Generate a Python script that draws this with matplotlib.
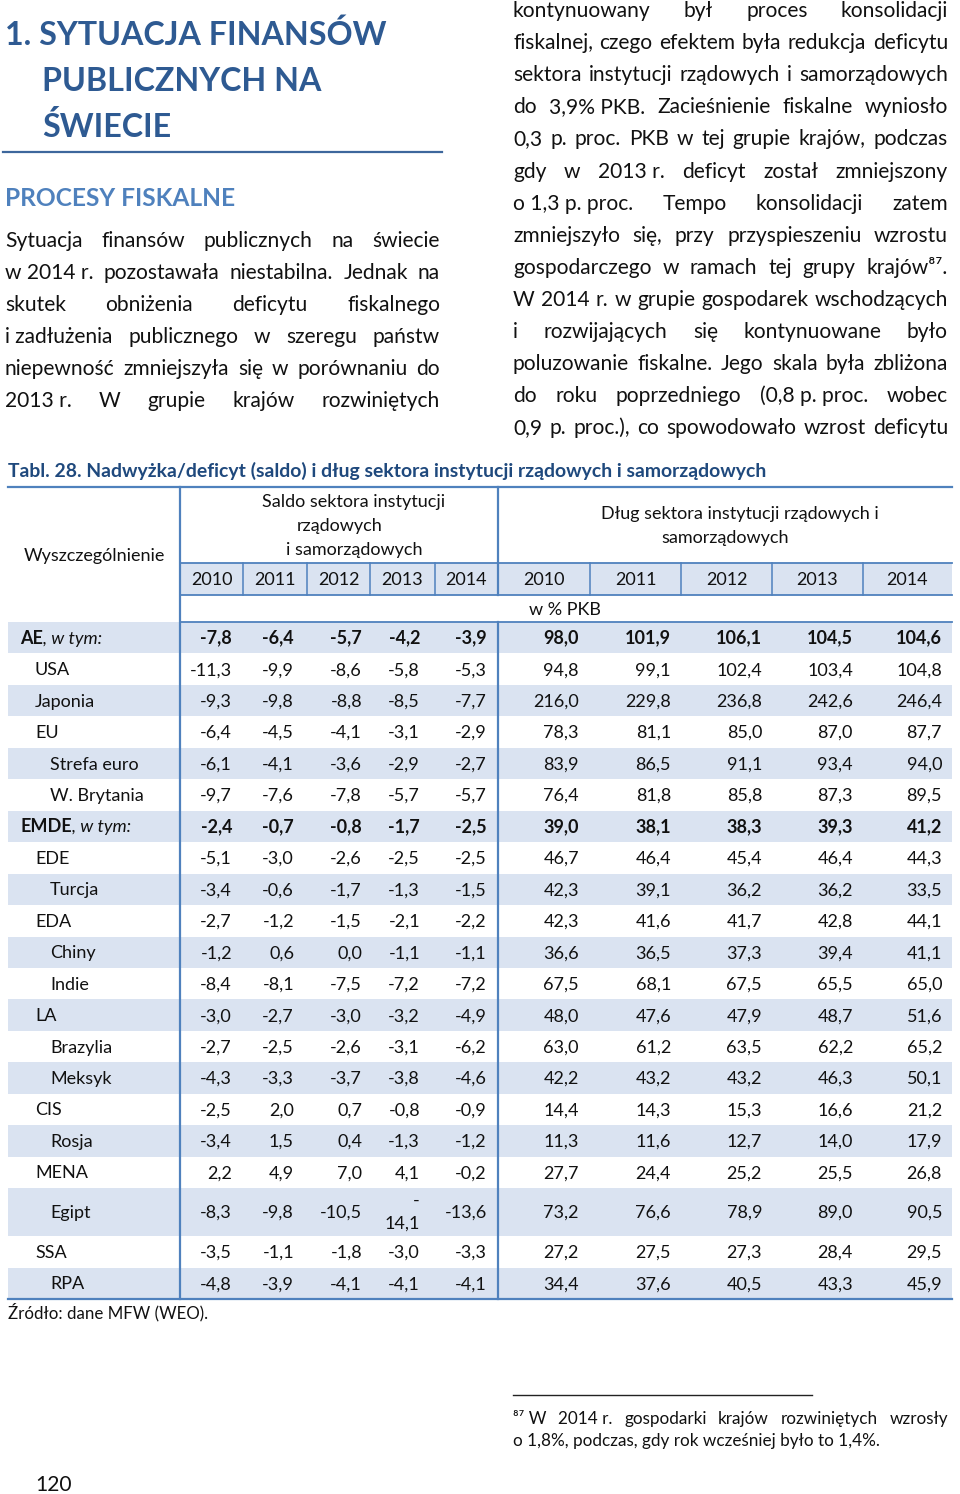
import matplotlib.pyplot as plt
from matplotlib.patches import Rectangle

plt.rcParams['font.family'] = ['Lato', 'DejaVu Sans']

# ---------------- data ----------------
years = ["2010", "2011", "2012", "2013", "2014"]

regions = ["AE, w tym:", "USA", "Japonia", "EU", "Strefa euro", "W. Brytania",
           "EMDE, w tym:", "EDE", "Turcja", "EDA", "Chiny", "Indie", "LA",
           "Brazylia", "Meksyk", "CIS", "Rosja", "MENA", "Egipt", "SSA", "RPA"]
levels = [0, 1, 1, 1, 2, 2, 0, 1, 2, 1, 2, 2, 1, 2, 2, 1, 2, 1, 2, 1, 2]

saldo = [
    [-7.8, -6.4, -5.7, -4.2, -3.9],
    [-11.3, -9.9, -8.6, -5.8, -5.3],
    [-9.3, -9.8, -8.8, -8.5, -7.7],
    [-6.4, -4.5, -4.1, -3.1, -2.9],
    [-6.1, -4.1, -3.6, -2.9, -2.7],
    [-9.7, -7.6, -7.8, -5.7, -5.7],
    [-2.4, -0.7, -0.8, -1.7, -2.5],
    [-5.1, -3.0, -2.6, -2.5, -2.5],
    [-3.4, -0.6, -1.7, -1.3, -1.5],
    [-2.7, -1.2, -1.5, -2.1, -2.2],
    [-1.2, 0.6, 0.0, -1.1, -1.1],
    [-8.4, -8.1, -7.5, -7.2, -7.2],
    [-3.0, -2.7, -3.0, -3.2, -4.9],
    [-2.7, -2.5, -2.6, -3.1, -6.2],
    [-4.3, -3.3, -3.7, -3.8, -4.6],
    [-2.5, 2.0, 0.7, -0.8, -0.9],
    [-3.4, 1.5, 0.4, -1.3, -1.2],
    [2.2, 4.9, 7.0, 4.1, -0.2],
    [-8.3, -9.8, -10.5, -14.1, -13.6],
    [-3.5, -1.1, -1.8, -3.0, -3.3],
    [-4.8, -3.9, -4.1, -4.1, -4.1],
]

dlug = [
    [98.0, 101.9, 106.1, 104.5, 104.6],
    [94.8, 99.1, 102.4, 103.4, 104.8],
    [216.0, 229.8, 236.8, 242.6, 246.4],
    [78.3, 81.1, 85.0, 87.0, 87.7],
    [83.9, 86.5, 91.1, 93.4, 94.0],
    [76.4, 81.8, 85.8, 87.3, 89.5],
    [39.0, 38.1, 38.3, 39.3, 41.2],
    [46.7, 46.4, 45.4, 46.4, 44.3],
    [42.3, 39.1, 36.2, 36.2, 33.5],
    [42.3, 41.6, 41.7, 42.8, 44.1],
    [36.6, 36.5, 37.3, 39.4, 41.1],
    [67.5, 68.1, 67.5, 65.5, 65.0],
    [48.0, 47.6, 47.9, 48.7, 51.6],
    [63.0, 61.2, 63.5, 62.2, 65.2],
    [42.2, 43.2, 43.2, 46.3, 50.1],
    [14.4, 14.3, 15.3, 16.6, 21.2],
    [11.3, 11.6, 12.7, 14.0, 17.9],
    [27.7, 24.4, 25.2, 25.5, 26.8],
    [73.2, 76.6, 78.9, 89.0, 90.5],
    [27.2, 27.5, 27.3, 28.4, 29.5],
    [34.4, 37.6, 40.5, 43.3, 45.9],
]

left_par = [
    "Sytuacja finansów publicznych na świecie",
    "w\u00a02014\u00a0r. pozostawała niestabilna. Jednak na",
    "skutek obniżenia deficytu fiskalnego",
    "i\u00a0zadłużenia publicznego w szeregu państw",
    "niepewność zmniejszyła się w porównaniu do",
    "2013\u00a0r. W grupie krajów rozwiniętych",
]
right_par = [
    "kontynuowany był proces konsolidacji",
    "fiskalnej, czego efektem była redukcja deficytu",
    "sektora instytucji rządowych i samorządowych",
    "do 3,9%\u00a0PKB. Zacieśnienie fiskalne wyniosło",
    "0,3 p. proc. PKB w tej grupie krajów, podczas",
    "gdy w 2013\u00a0r. deficyt został zmniejszony",
    "o\u00a01,3\u00a0p.\u00a0proc. Tempo konsolidacji zatem",
    "zmniejszyło się, przy przyspieszeniu wzrostu",
    "gospodarczego w ramach tej grupy krajów\u2078\u2077.",
    "W 2014 r. w grupie gospodarek wschodzących",
    "i rozwijających się kontynuowane było",
    "poluzowanie fiskalne. Jego skala była zbliżona",
    "do roku poprzedniego (0,8\u00a0p.\u00a0proc. wobec",
    "0,9 p. proc.), co spowodowało wzrost deficytu",
]
footnote = ["\u2078\u2077\u00a0W 2014\u00a0r. gospodarki krajów rozwiniętych wzrosły",
            "o 1,8%, podczas, gdy rok wcześniej było to 1,4%."]

# ---------------- style ----------------
TEXT = "#111111"
TITLE = "#2E5A92"
SUB = "#4F81BD"
TAB_TITLE = "#1F497D"
LINE = "#4F81BD"
SHADE = "#DAE3F1"

W, H = 960, 1494
fig = plt.figure(figsize=(W / 100, H / 100), dpi=100)
ax = fig.add_axes([0, 0, 1, 1])
ax.set_xlim(0, W)
ax.set_ylim(H, 0)
ax.axis('off')
rend = fig.canvas.get_renderer()


def txt(x, y, s, **kw):
    kw.setdefault('color', TEXT)
    kw.setdefault('va', 'baseline')
    return ax.text(x, y, s, zorder=3, **kw)


def width(s, **kw):
    t = ax.text(0, 0, s, **kw)
    w = t.get_window_extent(renderer=rend).width
    t.remove()
    return w


def fit(s, target, **kw):
    return 10 * target / width(s, fontsize=10, **kw)


def justify(line, x0, x1, y, size):
    words = line.split(' ')
    ws = [width(w, fontsize=size) for w in words]
    gap = (x1 - x0 - sum(ws)) / max(len(words) - 1, 1)
    x = x0
    for w, wd in zip(words, ws):
        txt(x, y, w, fontsize=size)
        x += wd + gap


def fmt(v):
    return f"{v:.1f}".replace('.', ',')


# ---------------- headings ----------------
ts = fit("1. SYTUACJA FINANSÓW", 382, fontweight='bold')
txt(5, 45, "1. SYTUACJA FINANSÓW", fontsize=ts, fontweight='bold', color=TITLE)
txt(42, 91, "PUBLICZNYCH NA", fontsize=ts, fontweight='bold', color=TITLE)
txt(42, 137, "ŚWIECIE", fontsize=ts, fontweight='bold', color=TITLE)
ax.plot([3, 442], [152, 152], color="#3D679C", lw=1.6, zorder=2)

ss = fit("PROCESY FISKALNE", 230, fontweight='bold')
txt(5, 206, "PROCESY FISKALNE", fontsize=ss, fontweight='bold', color=SUB)

BODY = fit("fiskalnej, czego efektem była redukcja deficytu", 430)
for i, line in enumerate(left_par):
    justify(line, 5, 440, 247 + 32 * i, BODY)
for i, line in enumerate(right_par):
    justify(line, 513, 948, 17 + 32.1 * i, BODY)

# ---------------- table ----------------
tt = "Tabl. 28. Nadwyżka/deficyt (saldo) i dług sektora instytucji rządowych i samorządowych"
tsz = fit(tt, 757, fontweight='bold')
txt(8, 477, tt, fontsize=tsz, fontweight='bold', color=TAB_TITLE)

TS = fit("Wyszczególnienie", 142)
x_left, x_lab, x_mid, x_right = 8, 180, 498, 952
saldo_edges = [180, 243, 307, 370, 435, 498]
dlug_edges = [498, 590, 681, 772, 863, 952]
saldo_right = [232, 294, 362, 420, 487]
dlug_right = [579, 671, 762, 853, 942]
top, yr_top, yr_bot, hdr_bot = 487, 563, 595, 622

# year row
ax.add_patch(Rectangle((x_lab, yr_top), x_right - x_lab, yr_bot - yr_top,
                       color=SHADE, lw=0, zorder=0))

# data rows
heights = [48 if r == "Egipt" else 31.45 for r in regions]
y = hdr_bot
row_mid = []
for i, h in enumerate(heights):
    if i % 2 == 0:
        ax.add_patch(Rectangle((x_left, y), x_right - x_left, h,
                               color=SHADE, lw=0, zorder=0))
    row_mid.append(y + h / 2)
    y += h
bottom = y

# lines
ax.plot([x_left, x_right], [top, top], color=LINE, lw=1.6, zorder=2)
ax.plot([x_left, x_right], [bottom, bottom], color=LINE, lw=1.6, zorder=2)
ax.plot([x_lab, x_right], [yr_top, yr_top], color=LINE, lw=1.3, zorder=2)
ax.plot([x_lab, x_right], [yr_bot, yr_bot], color=LINE, lw=1.3, zorder=2)
ax.plot([x_lab, x_right], [hdr_bot, hdr_bot], color=LINE, lw=1.3, zorder=2)
ax.plot([x_lab, x_lab], [top, bottom], color=LINE, lw=1.6, zorder=2)
ax.plot([x_mid, x_mid], [top, yr_bot], color=LINE, lw=1.6, zorder=2)
ax.plot([x_mid, x_mid], [hdr_bot, bottom], color=LINE, lw=1.6, zorder=2)
for e in saldo_edges[1:-1] + dlug_edges[1:-1]:
    ax.plot([e, e], [yr_top, yr_bot], color=LINE, lw=1.1, zorder=2)

# header texts
txt(94, 561, "Wyszczególnienie", fontsize=TS, ha='center')
txt(354, 507, "Saldo sektora instytucji", fontsize=TS, ha='center')
txt(340, 531, "rządowych", fontsize=TS, ha='center')
txt(354, 555, "i samorządowych", fontsize=TS, ha='center')
txt(740, 519, "Dług sektora instytucji rządowych i", fontsize=TS, ha='center')
txt(725, 543, "samorządowych", fontsize=TS, ha='center')
for edges in (saldo_edges, dlug_edges):
    for j, yr in enumerate(years):
        txt((edges[j] + edges[j + 1]) / 2, 585, yr, fontsize=TS, ha='center')
txt(565, 615, "w % PKB", fontsize=TS, ha='center')

indent = [20, 35, 50]
for i, name in enumerate(regions):
    ym = row_mid[i] + 6
    bold = name.endswith("w tym:")
    wt = 'bold' if bold else 'normal'
    if bold:
        head = name.split(',')[0]
        txt(indent[levels[i]], ym, head, fontsize=TS, fontweight='bold')
        wd = width(head, fontsize=TS, fontweight='bold')
        txt(indent[levels[i]] + wd, ym, ", w tym:", fontsize=TS, style='italic')
    else:
        txt(indent[levels[i]], ym, name, fontsize=TS)
    for j in range(5):
        s = fmt(saldo[i][j])
        if name == "Egipt" and j == 3:
            txt(saldo_right[j], ym - 12, "-", fontsize=TS, ha='right')
            txt(saldo_right[j], ym + 11, s[1:], fontsize=TS, ha='right')
        else:
            txt(saldo_right[j], ym, s, fontsize=TS, ha='right', fontweight=wt)
        txt(dlug_right[j], ym, fmt(dlug[i][j]), fontsize=TS, ha='right', fontweight=wt)

src = "Źródło: dane MFW (WEO)."
txt(8, 1318, src, fontsize=fit(src, 200))

# ---------------- footnote ----------------
ax.plot([513, 812], [1395, 1395], color="#222222", lw=1.0, zorder=2)
FN = fit(footnote[1], 367)
justify(footnote[0], 513, 948, 1424, FN)
txt(513, 1446, footnote[1], fontsize=FN)

txt(35, 1491, "120", fontsize=BODY)

fig.savefig("out.png", dpi=100)
